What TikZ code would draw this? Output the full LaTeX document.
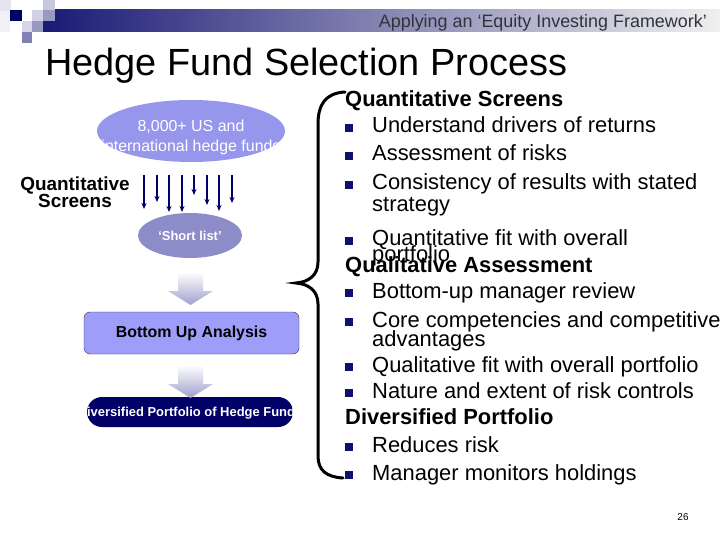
\documentclass[tikz,border=0pt]{standalone}
\usepackage{fontspec}
\setmainfont{Liberation Sans}
\usepackage{tikz}
\usetikzlibrary{arrows.meta, shapes.geometric, calc}
\definecolor{slidenavy}{RGB}{0, 0, 102}
\definecolor{bulletnavy}{RGB}{16, 16, 112}
\definecolor{fundlav}{RGB}{150, 150, 236}
\definecolor{boxlav}{RGB}{158, 158, 250}
\definecolor{listlav}{RGB}{140, 140, 200}
\definecolor{arrowlav}{RGB}{160, 160, 205}
\definecolor{headgray}{RGB}{50, 50, 60}

\begin{document}
\begin{tikzpicture}[x=1bp, y=-1bp,
		heading/.style={anchor=base west, inner sep=0pt, font=\fontsize{22}{26}\selectfont\bfseries},
		item/.style={anchor=base west, inner sep=0pt, font=\fontsize{22}{26}\selectfont},
		screen/.style={slidenavy, line width=1.5bp, -{Stealth[length=6bp, width=5bp]}},
		blockarrow/.style={top color=white, bottom color=arrowlav}]
			\fill[white] (0,0) rectangle (720,540);
			\useasboundingbox (0,0) rectangle (720,540);
			% header bar and squares
			\shade[left color=slidenavy!90, middle color=slidenavy!35!gray!70, right color=gray!12] (43,10) rectangle (720,32);
			\foreach \xa/\ya/\xb/\yb/\c in {0/0/11/11/slidenavy!10, 0/11/10/32/slidenavy!6, 10/10/22/21/slidenavy,
				32/10/43/21/slidenavy!18, 43/0/55/10/slidenavy!22, 43/10/55/21/slidenavy!40,
				22/21/32/32/slidenavy!16, 32/21/43/32/slidenavy!40, 22/32/32/43/slidenavy!50}{
				\fill[\c] (\xa,\ya) rectangle (\xb,\yb);
			}
			\node[anchor=base east, inner sep=0pt, headgray, font=\fontsize{18}{20}\selectfont] (header) at (707,28) {Applying an ‘Equity Investing Framework’};
			\node[anchor=base west, inner sep=0pt, font=\fontsize{38}{40}\selectfont] (title) at (45,76) {Hedge Fund Selection Process};
			% left flow
			\node[ellipse, fill=fundlav, minimum width=188bp, minimum height=62bp, inner sep=0pt,
				path picture={\node[white, align=center, font=\fontsize{16}{20}\selectfont] at ($(path picture bounding box.center)+(0,6)$) {8,000+ US and\\international hedge funds};}] (funds) at (191,131) {};
			\node[align=center, inner sep=0pt, font=\fontsize{19}{17.5}\selectfont\bfseries] (screens) at (75,192) {Quantitative\\Screens};
			\foreach \x/\e in {144/209, 157/202, 169/212, 182/212, 194/195, 207/205, 219/211, 232/203}
				\draw[screen] (\x,175) -- (\x,\e);
			\node[ellipse, fill=listlav, minimum width=104bp, minimum height=45bp, inner sep=0pt, text=white,
				font=\fontsize{13}{15}\selectfont\bfseries] (shortlist) at (190,235.5) {‘Short list’};
			\node[draw=black!80, fill=boxlav, rounded corners=6bp, minimum width=215bp, minimum height=42bp,
				font=\fontsize{16}{18}\selectfont\bfseries] (bottomup) at (191.5,333) {Bottom Up Analysis};
			\node[fill=slidenavy, rounded corners=15bp, minimum width=206bp, minimum height=30bp, inner sep=0pt,
				path picture={\node[white, font=\fontsize{13}{15}\selectfont\bfseries] at ($(path picture bounding box.center)+(0,1)$) {Diversified Portfolio of Hedge Funds};}] (portfolio) at (190,412) {};
			\foreach \t in {272,365}
				\shade[blockarrow] (178,\t) -- (203,\t) -- (203,\t+19) -- (213,\t+19) -- (190.5,\t+33) -- (168,\t+19) -- (178,\t+19) -- cycle;
			% brace
			\draw[line width=3bp, line cap=round] (345,92) .. controls (326,93) and (318,104) .. (318,124) -- (318,262)
				.. controls (318,275) and (309,282) .. (296,283) .. controls (309,284) and (318,291) .. (318,304) -- (318,456)
				.. controls (318,470) and (326,477) .. (343,478);
			% right list
			\foreach \y/\txt in {107/Quantitative Screens, 273/Qualitative Assessment, 424/Diversified Portfolio}
				\node[heading] (head\y) at (345,\y) {\txt};
			\foreach \y/\txt in {133/Understand drivers of returns, 161/Assessment of risks, 190/Consistency of results with stated,
				246/Quantitative fit with overall, 298/Bottom-up manager review, 327/Core competencies and competitive,
				372/Qualitative fit with overall portfolio, 398/Nature and extent of risk controls, 452/Reduces risk,
				480/Manager monitors holdings}{
				\fill[bulletnavy] (345,\y-1) rectangle (353,\y-9);
				\node[item] (item\y) at (372,\y) {\txt};
			}
			\foreach \y/\txt in {212/strategy, 262/portfolio, 346/advantages}
				\node[item] (cont\y) at (372,\y) {\txt};
			\node[font=\fontsize{10}{12}\selectfont] (pagenum) at (683,517) {26};
		\end{tikzpicture}
\end{document}
